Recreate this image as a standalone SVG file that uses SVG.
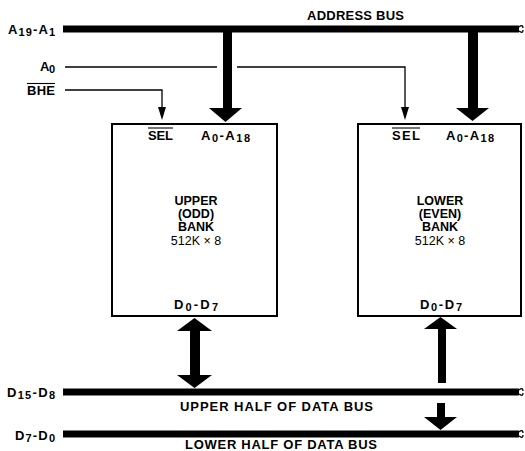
<svg xmlns="http://www.w3.org/2000/svg" width="525" height="451" viewBox="0 0 525 451">
<style>
text{font-family:"Liberation Sans",Arial,sans-serif;font-weight:bold;font-size:13px;fill:#000}
.sub{font-size:11px}
.c{text-anchor:middle;font-size:12.5px}
.n{font-weight:normal}
.bus{stroke:#000;stroke-width:7;fill:none}
.thin{stroke:#000;stroke-width:1.3;fill:none}
.box{stroke:#000;stroke-width:2;fill:#fff}
.ov{stroke:#000;stroke-width:1.1}
</style>
<rect width="525" height="451" fill="#fff"/>
<g id="connectors">
  <!-- address bus -->
  <line class="bus" x1="63" y1="29" x2="519" y2="29"/>
  <path class="thin" d="M519 27 q4 -3 4 1 M519 31 q4 3 4 -1"/>
  <!-- A0 line -->
  <path class="thin" d="M65 67 H217 M237 67 H405 V110"/>
  <polygon points="401,107 409,107 405,120"/>
  <!-- BHE line -->
  <path class="thin" d="M65 90 H162 V110"/>
  <polygon points="158,107 166,107 162,120"/>
  <!-- thick address arrows -->
  <rect x="223" y="30" width="9" height="79"/>
  <polygon points="209,108 242,108 225.5,122"/>
  <rect x="468" y="30" width="10" height="79"/>
  <polygon points="456,108 489,108 472.5,121"/>
  <!-- data buses -->
  <line class="bus" x1="63" y1="392" x2="519" y2="392"/>
  <path class="thin" d="M519 390 q4 -3 4 1 M519 394 q4 3 4 -1"/>
  <line class="bus" x1="63" y1="434" x2="519" y2="434"/>
  <path class="thin" d="M519 432 q4 -3 4 1 M519 436 q4 3 4 -1"/>
  <!-- left double arrow -->
  <rect x="190" y="330" width="10" height="46"/>
  <polygon points="177,331 212,331 194.5,318"/>
  <polygon points="177,375 212,375 194.5,388"/>
  <!-- right arrows -->
  <rect x="438" y="328" width="8" height="55"/>
  <polygon points="424,329 457,329 440.5,317"/>
  <rect x="437" y="403" width="8" height="15"/>
  <polygon points="424,417 457,417 440.5,430"/>
</g>
<g id="address-bus-labels">
  <text x="8" y="34" textLength="47">A<tspan class="sub" dy="2">19</tspan><tspan dy="-2">-A</tspan><tspan class="sub" dy="2">1</tspan></text>
  <text x="307" y="20" textLength="97">ADDRESS BUS</text>
  <text x="40" y="71" textLength="15">A<tspan class="sub" dy="2">0</tspan></text>
  <text x="27" y="95" textLength="28">BHE</text>
  <line class="ov" x1="27" y1="83.5" x2="55" y2="83.5"/>
</g>
<g id="upper-bank">
  <rect class="box" x="112" y="124" width="165" height="192"/>
  <text x="148" y="140" textLength="25">SEL</text>
  <line class="ov" x1="148" y1="128" x2="173" y2="128"/>
  <text x="201" y="140" textLength="49">A<tspan class="sub" dy="2">0</tspan><tspan dy="-2">-A</tspan><tspan class="sub" dy="2">18</tspan></text>
  <text class="c" x="196" y="205">UPPER</text>
  <text class="c" x="196" y="218">(ODD)</text>
  <text class="c" x="196" y="231">BANK</text>
  <text class="c n" x="196" y="245">512K × 8</text>
  <text x="174" y="309" textLength="44">D<tspan class="sub" dy="2">0</tspan><tspan dy="-2">-D</tspan><tspan class="sub" dy="2">7</tspan></text>
</g>
<g id="lower-bank">
  <rect class="box" x="358" y="124" width="163" height="192"/>
  <text x="392" y="140" textLength="28">SEL</text>
  <line class="ov" x1="392" y1="128" x2="420" y2="128"/>
  <text x="446" y="140" textLength="48">A<tspan class="sub" dy="2">0</tspan><tspan dy="-2">-A</tspan><tspan class="sub" dy="2">18</tspan></text>
  <text class="c" x="440" y="205">LOWER</text>
  <text class="c" x="440" y="218">(EVEN)</text>
  <text class="c" x="440" y="231">BANK</text>
  <text class="c n" x="440" y="245">512K × 8</text>
  <text x="420" y="309" textLength="42">D<tspan class="sub" dy="2">0</tspan><tspan dy="-2">-D</tspan><tspan class="sub" dy="2">7</tspan></text>
</g>
<g id="data-bus-labels">
  <text x="7" y="397" textLength="48">D<tspan class="sub" dy="2">15</tspan><tspan dy="-2">-D</tspan><tspan class="sub" dy="2">8</tspan></text>
  <text x="180" y="411" textLength="193">UPPER HALF OF DATA BUS</text>
  <text x="15" y="440" textLength="40">D<tspan class="sub" dy="2">7</tspan><tspan dy="-2">-D</tspan><tspan class="sub" dy="2">0</tspan></text>
  <text x="185" y="449" textLength="192">LOWER HALF OF DATA BUS</text>
</g>
</svg>
